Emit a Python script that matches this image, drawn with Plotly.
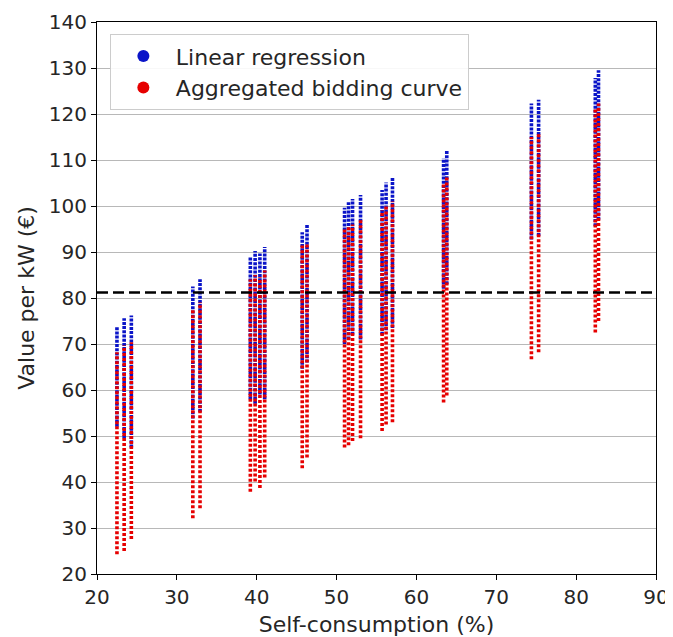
import plotly.graph_objects as go

# Self-consumption (%) of each column of points
x_pos = [22.5, 23.4, 24.3,
         32.0, 32.9,
         39.2, 39.8, 40.4, 41.0,
         45.7, 46.3,
         51.0, 51.5, 52.0, 53.0,
         55.7, 56.2, 57.0,
         63.4, 63.8,
         74.4, 75.3,
         82.4, 82.8]

# Linear regression: range of values per column
blue_low = [52.0, 49.5, 47.5,
            53.8, 55.2,
            58.0, 57.0, 59.0, 58.0,
            64.6, 66.0,
            70.0, 71.0, 72.0, 71.0,
            72.0, 73.0, 73.5,
            82.0, 83.0,
            92.7, 93.5,
            95.6, 97.0]
blue_high = [73.8, 75.6, 76.2,
             82.5, 84.1,
             88.8, 90.2, 89.7, 91.1,
             94.3, 96.0,
             99.6, 100.8, 101.5, 102.4,
             103.5, 105.1, 106.1,
             110.4, 112.2,
             122.3, 123.1,
             127.8, 129.5]

# Aggregated bidding curve: range of values per column
red_low = [24.3, 25.0, 27.6,
           32.1, 34.3,
           37.9, 40.1, 38.7, 41.0,
           43.0, 45.3,
           47.5, 48.0, 48.9, 49.5,
           51.1, 52.5, 53.0,
           57.3, 58.8,
           66.7, 68.2,
           72.5, 75.0]
red_high = [68.2, 69.7, 70.4,
            77.6, 79.0,
            84.0, 85.0, 84.5, 86.0,
            91.4, 92.0,
            95.0, 95.5, 96.0, 97.0,
            99.0, 100.0, 101.0,
            105.0, 106.5,
            115.0, 116.0,
            121.0, 122.3]

threshold = 81.2

y_ticks = list(range(20, 141, 10))
x_ticks = list(range(20, 91, 10))

BLUE = "#0a14c8"
RED = "#e60000"
FONT = "DejaVu Sans"
TXT = "#262626"


def segments(xs, lows, highs):
    sx, sy = [], []
    for x, lo, hi in zip(xs, lows, highs):
        sx += [x, x, None]
        sy += [lo, hi, None]
    return sx, sy


fig = go.Figure()

bx, by = segments(x_pos, blue_low, blue_high)
rx, ry = segments(x_pos, red_low, red_high)

fig.add_trace(go.Scatter(x=bx, y=by, mode="lines", showlegend=False,
                         line=dict(color=BLUE, width=3.6, dash="3px,1.2px"),
                         hoverinfo="skip"))
fig.add_trace(go.Scatter(x=rx, y=ry, mode="lines", showlegend=False,
                         line=dict(color=RED, width=3.6, dash="3px,2px"),
                         hoverinfo="skip"))

# legend entries
fig.add_trace(go.Scatter(x=[None], y=[None], mode="markers", name="Linear regression",
                         legendgroup="a", marker=dict(color=BLUE, size=13)))
fig.add_trace(go.Scatter(x=[None], y=[None], mode="markers", name="Aggregated bidding curve",
                         legendgroup="b", marker=dict(color=RED, size=13)))

fig.add_shape(type="line", xref="paper", x0=0, x1=1, yref="y", y0=threshold, y1=threshold,
              line=dict(color="black", width=2.5, dash="11px,5px"))

# the page body adds an 8px offset, so the figure is 8px smaller on each axis
fig.update_layout(
    width=665, height=629,
    margin=dict(l=89, r=17, t=14, b=63),
    plot_bgcolor="white", paper_bgcolor="white",
    font=dict(family=FONT, size=20, color=TXT),
    showlegend=True,
    legend=dict(x=0.023, y=0.978, xanchor="left", yanchor="top",
                bgcolor="rgba(255,255,255,0.9)", bordercolor="#cccccc", borderwidth=1,
                font=dict(family=FONT, size=22, color=TXT),
                itemsizing="constant", itemwidth=55, traceorder="grouped",
                tracegroupgap=0),
    xaxis=dict(range=[20, 90], tickvals=x_ticks, showgrid=False, zeroline=False,
               automargin=False, ticklabeloverflow="allow",
               showline=True, linecolor="black", linewidth=1.2, mirror=True,
               ticks="outside", ticklen=5, tickcolor="black",
               tickfont=dict(family=FONT, size=20, color=TXT),
               title=dict(text="Self-consumption (%)", standoff=9,
                          font=dict(family=FONT, size=22, color=TXT))),
    yaxis=dict(range=[20, 140], tickvals=y_ticks, showgrid=True, gridcolor="#b8b8b8",
               gridwidth=1, zeroline=False, automargin=False, ticklabeloverflow="allow",
               showline=True, linecolor="black", linewidth=1.2, mirror=True,
               ticks="outside", ticklen=5, tickcolor="black",
               tickfont=dict(family=FONT, size=20, color=TXT),
               title=dict(text="Value per kW (€)", standoff=8,
                          font=dict(family=FONT, size=22, color=TXT))),
)

fig.write_html("out.html")
